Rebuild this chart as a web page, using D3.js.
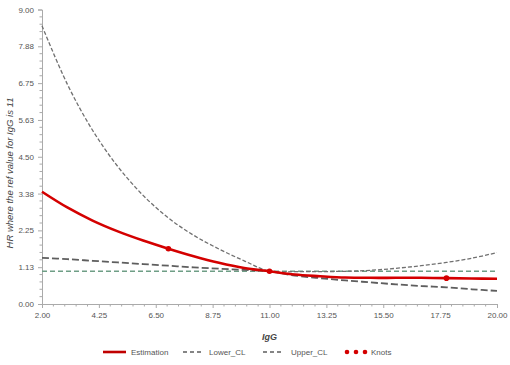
<!DOCTYPE html>
<html>
<head>
<meta charset="utf-8">
<script src="https://cdn.jsdelivr.net/npm/d3@7"></script>
<style>
  body { margin: 0; background: #fff; }
  svg { display: block; font-family: "Liberation Sans", Arial, sans-serif; }
  .tick text { fill: #555; font-size: 8px; }
  .legend text { fill: #555; font-size: 8px; }
</style>
</head>
<body>
<svg id="chart"></svg>
<script>
// IgG values where the curves were read
const igg = [2, 3, 4, 5, 6, 7, 8, 9, 10, 11, 12, 13, 14, 15, 16, 17, 18, 19, 20];

// HR estimate and confidence limits
const estimation = [3.43, 2.95, 2.55, 2.22, 1.94, 1.69, 1.46, 1.26, 1.10, 1.00, 0.90, 0.85, 0.81, 0.80, 0.80, 0.80, 0.79, 0.78, 0.77];
const lowerCL    = [1.41, 1.37, 1.32, 1.27, 1.22, 1.17, 1.12, 1.08, 1.04, 1.00, 0.87, 0.79, 0.72, 0.66, 0.60, 0.55, 0.51, 0.45, 0.40];
const upperCL    = [8.50, 6.72, 5.31, 4.20, 3.32, 2.63, 2.10, 1.68, 1.32, 1.00, 0.99, 0.99, 1.00, 1.03, 1.09, 1.17, 1.27, 1.40, 1.57];

// spline knots
const knotX = [7, 11, 18];
const knotY = [1.69, 1.00, 0.79];

// reference HR
const refHR = 1;

// axis ticks
const xTicks = [2, 4.25, 6.5, 8.75, 11, 13.25, 15.5, 17.75, 20];
const xTickLabels = ["2.00", "4.25", "6.50", "8.75", "11.00", "13.25", "15.50", "17.75", "20.00"];
const yTicks = [0, 1.125, 2.25, 3.375, 4.5, 5.625, 6.75, 7.875, 9];
const yTickLabels = ["0.00", "1.13", "2.25", "3.38", "4.50", "5.63", "6.75", "7.88", "9.00"];

const W = 510, H = 365;
const margin = { top: 9.5, right: 13, bottom: 61, left: 42 };

const svg = d3.select("#chart").attr("width", W).attr("height", H);

const x = d3.scaleLinear().domain([2, 20]).range([margin.left, W - margin.right]);
const y = d3.scaleLinear().domain([0, 9]).range([H - margin.bottom, margin.top]);

// minor ticks (4 between majors)
function minors(ticks) {
  const out = [];
  for (let i = 0; i < ticks.length - 1; i++) {
    const step = (ticks[i + 1] - ticks[i]) / 5;
    for (let k = 1; k < 5; k++) out.push(ticks[i] + k * step);
  }
  return out;
}

const axisColor = "#aaa";

// x axis
const gx = svg.append("g")
  .attr("transform", `translate(0,${y(0)})`)
  .call(d3.axisBottom(x).tickValues(xTicks).tickSize(4).tickPadding(4)
    .tickFormat((d, i) => xTickLabels[i]));
gx.append("g").selectAll("line").data(minors(xTicks)).join("line")
  .attr("x1", d => x(d)).attr("x2", d => x(d)).attr("y1", 0).attr("y2", 2.5)
  .attr("stroke", axisColor);

// y axis
const gy = svg.append("g")
  .attr("transform", `translate(${x(2)},0)`)
  .call(d3.axisLeft(y).tickValues(yTicks).tickSize(4).tickPadding(4)
    .tickFormat((d, i) => yTickLabels[i]));
gy.append("g").selectAll("line").data(minors(yTicks)).join("line")
  .attr("y1", d => y(d)).attr("y2", d => y(d)).attr("x1", 0).attr("x2", -2.5)
  .attr("stroke", axisColor);

svg.selectAll(".domain, .tick line").attr("stroke", axisColor);

// axis titles
svg.append("text")
  .attr("transform", "translate(13,173) rotate(-90)")
  .attr("text-anchor", "middle")
  .style("font-size", "9.5px")
  .style("font-style", "italic")
  .attr("fill", "#444")
  .text("HR where the ref value for IgG is 11");

svg.append("text")
  .attr("x", (x(2) + x(20)) / 2)
  .attr("y", 340)
  .attr("text-anchor", "middle")
  .style("font-size", "9px")
  .style("font-style", "italic")
  .style("font-weight", "bold")
  .attr("fill", "#444")
  .text("IgG");

// reference line at HR = 1
svg.append("line")
  .attr("x1", x(2)).attr("x2", x(20))
  .attr("y1", y(refHR)).attr("y2", y(refHR))
  .attr("stroke", "#6f9e86").attr("stroke-width", 1.5)
  .attr("stroke-dasharray", "5,3");

const line = d3.line().curve(d3.curveCatmullRom.alpha(0.5));
const pts = vals => igg.map((v, i) => [x(v), y(vals[i])]);

svg.append("path")
  .attr("d", line(pts(lowerCL)))
  .attr("fill", "none").attr("stroke", "#5e5e5e")
  .attr("stroke-width", 1.8).attr("stroke-dasharray", "7,3");

svg.append("path")
  .attr("d", line(pts(upperCL)))
  .attr("fill", "none").attr("stroke", "#707070")
  .attr("stroke-width", 1.3).attr("stroke-dasharray", "4,2");

svg.append("path")
  .attr("d", line(pts(estimation)))
  .attr("fill", "none").attr("stroke", "#d40000")
  .attr("stroke-width", 2.6);

svg.selectAll("circle.knot").data(knotX).join("circle")
  .attr("class", "knot")
  .attr("cx", d => x(d)).attr("cy", (d, i) => y(knotY[i]))
  .attr("r", 2.8).attr("fill", "#d40000");

// legend
const leg = svg.append("g").attr("class", "legend");
const ly = 352;

leg.append("line").attr("x1", 103).attr("x2", 126).attr("y1", ly).attr("y2", ly)
  .attr("stroke", "#c00000").attr("stroke-width", 2.6);
leg.append("text").attr("x", 131).attr("y", ly + 3).text("Estimation");

leg.append("line").attr("x1", 183).attr("x2", 201).attr("y1", ly).attr("y2", ly)
  .attr("stroke", "#5e5e5e").attr("stroke-width", 1.3).attr("stroke-dasharray", "4,3");
leg.append("text").attr("x", 209).attr("y", ly + 3).text("Lower_CL");

leg.append("line").attr("x1", 263).attr("x2", 281).attr("y1", ly).attr("y2", ly)
  .attr("stroke", "#5e5e5e").attr("stroke-width", 1.3).attr("stroke-dasharray", "4,3");
leg.append("text").attr("x", 291).attr("y", ly + 3).text("Upper_CL");

leg.selectAll("circle").data([347, 356, 365]).join("circle")
  .attr("cx", d => d).attr("cy", ly).attr("r", 2.3).attr("fill", "#d40000");
leg.append("text").attr("x", 371).attr("y", ly + 3).text("Knots");
</script>
</body>
</html>
